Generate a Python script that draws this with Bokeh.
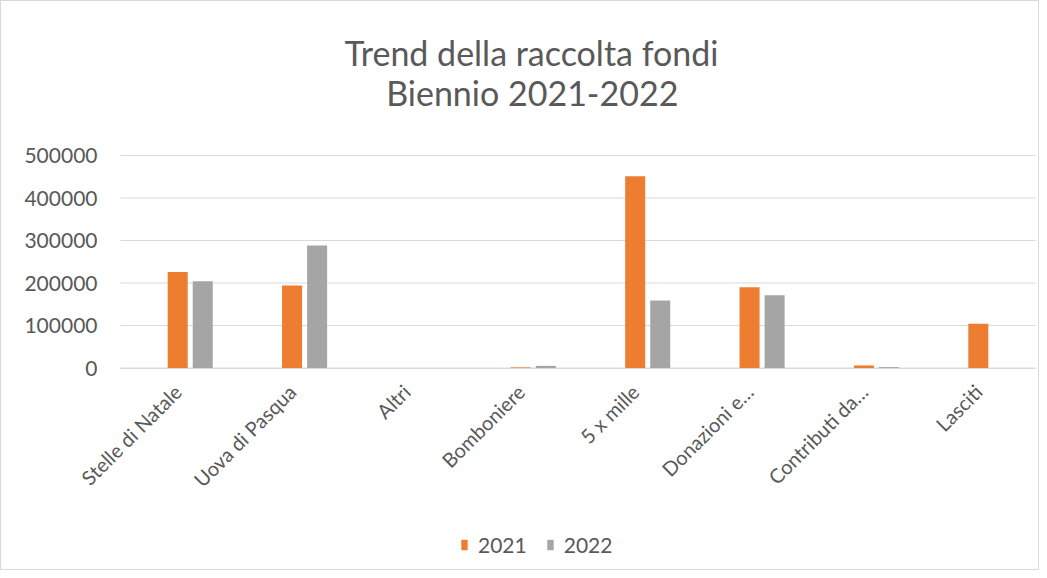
import math
from bokeh.plotting import figure
from bokeh.models import (ColumnDataSource, Range1d, FixedTicker,
                          BasicTickFormatter, Label, Legend, LegendItem)
from bokeh.transform import dodge
from bokeh.embed import file_html
from bokeh.resources import INLINE

categories = ["Stelle di Natale", "Uova di Pasqua", "Altri", "Bomboniere",
              "5 x mille", "Donazioni e…", "Contributi da…", "Lasciti"]
v2021 = [226000, 194000, 0, 1500, 451000, 190000, 6000, 104000]
v2022 = [204000, 288500, 0, 5000, 159000, 171000, 2000, 0]
series_names = ["2021", "2022"]
y_ticks = [0, 100000, 200000, 300000, 400000, 500000]
title_lines = ["Trend della raccolta fondi", "Biennio 2021-2022"]

FONT = "Lato"
TXT = "#595959"
GRID = "#d9d9d9"
ORANGE = "#ED7D31"
GRAY = "#A5A5A5"

# layout (pixels): canvas 1039x570, plot area x 119..1034, value 0 at y=366.5, 500000 at y=154
W, H = 1039, 570
LEFT, RIGHT = 119, 1034
N = len(categories)
PX_PER_CAT = (RIGHT - LEFT) / N
PX_PER_UNIT = (366.5 - 154) / 500000.0
x_start = -LEFT / PX_PER_CAT
x_end = N + (W - RIGHT) / PX_PER_CAT
y_top = 366.5 / PX_PER_UNIT
y_bot = -(H - 366.5) / PX_PER_UNIT

centers = [i + 0.5 for i in range(N)]
src = ColumnDataSource(dict(xc=centers, cat=categories, a=v2021, b=v2022))

p = figure(width=W, height=H, output_backend="svg", toolbar_location=None,
           x_range=Range1d(x_start, x_end), y_range=Range1d(y_bot, y_top),
           min_border_left=0, min_border_right=0,
           min_border_top=0, min_border_bottom=0)
p.title = None
p.outline_line_color = None
p.background_fill_color = "white"
p.border_fill_color = "white"
p.styles = {"border": "1px solid #d9d9d9"}
p.grid.visible = False

# horizontal gridlines across the category area only
p.segment(x0=[0] * len(y_ticks), x1=[N] * len(y_ticks), y0=y_ticks, y1=y_ticks,
          line_color=GRID, line_width=1)

r1 = p.vbar(x=dodge("xc", 0.0), top="a", width=0.175,
            source=src, fill_color=ORANGE, line_color=None)
r2 = p.vbar(x=dodge("xc", 0.219), top="b", width=0.175,
            source=src, fill_color=GRAY, line_color=None)

ya = p.yaxis[0]
ya.fixed_location = 0
ya.ticker = FixedTicker(ticks=y_ticks)
ya.formatter = BasicTickFormatter(use_scientific=False)
ya.axis_line_color = None
ya.major_tick_line_color = None
ya.minor_tick_line_color = None
ya.major_tick_out = 0
ya.major_tick_in = 0
ya.major_label_standoff = 23
ya.major_label_text_font = FONT
ya.major_label_text_font_size = "21px"
ya.major_label_text_color = TXT

xa = p.xaxis[0]
xa.fixed_location = 0
xa.bounds = (0, N)
xa.ticker = FixedTicker(ticks=centers)
xa.major_label_overrides = {c: name for c, name in zip(centers, categories)}
xa.axis_line_color = GRID
xa.axis_line_width = 1
xa.major_tick_line_color = None
xa.minor_tick_line_color = None
xa.major_tick_out = 0
xa.major_tick_in = 0
xa.major_label_orientation = math.pi / 4
xa.major_label_standoff = 20
xa.major_label_text_font = FONT
xa.major_label_text_font_size = "20px"
xa.major_label_text_color = TXT

for txt, xc, ybase in zip(title_lines, [3.593, 3.60], [51, 91]):
    p.add_layout(Label(x=xc, y=(366.5 - ybase) / PX_PER_UNIT, text=txt,
                       text_align="center", text_baseline="alphabetic",
                       text_font=FONT, text_font_size="34px",
                       text_color=TXT))

legend = Legend(items=[LegendItem(label=series_names[0], renderers=[r1]),
                       LegendItem(label=series_names[1], renderers=[r2])],
                orientation="horizontal", location=(459, 14),
                glyph_width=8, glyph_height=13, label_standoff=10, spacing=19,
                padding=0, margin=0, border_line_color=None,
                background_fill_alpha=0, label_text_font=FONT,
                label_text_font_size="21px", label_text_color=TXT,
                label_height=14)
p.add_layout(legend, "center")

open("out.html", "w").write(file_html(p, INLINE))
